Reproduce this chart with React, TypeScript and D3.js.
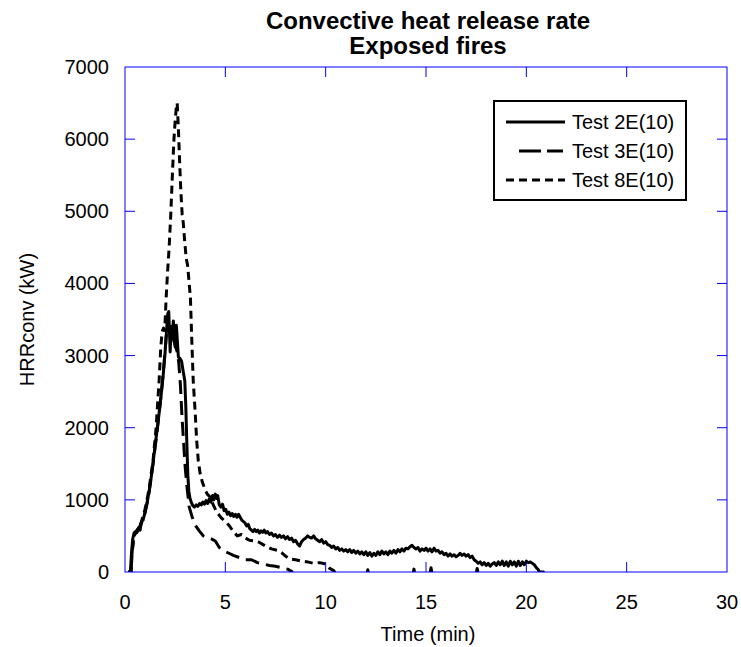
import React from "react";
import * as d3 from "d3";

const xTicks = [0, 5, 10, 15, 20, 25, 30];
const yTicks = [0, 1000, 2000, 3000, 4000, 5000, 6000, 7000];
const titleLines = ["Convective heat release rate", "Exposed fires"];
const seriesNames = ["Test 2E(10)", "Test 3E(10)", "Test 8E(10)"];

const test2E: [number, number][] = [
  [0.15,0],[0.27,0],[0.32,250],[0.38,450],[0.45,540],[0.52,560],[0.6,550],[0.68,610],[0.75,580],[0.82,700],[0.9,720],[1.0,830],[1.1,950],[1.2,1120],[1.3,1300],[1.4,1520],[1.5,1750],[1.6,1970],[1.7,2200],[1.8,2450],[1.9,2720],[2.0,3050],[2.07,3350],[2.13,3580],[2.18,3610],[2.22,3300],[2.25,3050],[2.3,3400],[2.35,3300],[2.41,3480],[2.46,3200],[2.5,3120],[2.56,3420],[2.61,3200],[2.66,2980],[2.74,2960],[2.82,2920],[2.9,2780],[2.98,2650],[3.03,2300],[3.08,1800],[3.13,1350],[3.18,1120],[3.24,1020],[3.3,970],[3.38,920],[3.46,900],[3.55,930],[3.63,910],[3.72,950],[3.8,930],[3.88,970],[3.96,940],[4.04,990],[4.12,950],[4.2,1010],[4.28,970],[4.36,1060],[4.42,1000],[4.5,1080],[4.56,1020],[4.62,1060],[4.7,930],[4.78,900],[4.86,940],[4.94,850],[5.02,870],[5.1,800],[5.18,830],[5.26,780],[5.34,810],[5.42,770],[5.5,800],[5.58,760],[5.66,800],[5.74,760],[5.82,720],[5.9,700],[5.98,680],[6.06,640],[6.14,660],[6.22,600],[6.3,580],[6.38,560],[6.46,590],[6.54,560],[6.62,580],[6.7,540],[6.78,570],[6.86,550],[6.94,580],[7.02,540],[7.1,560],[7.2,520],[7.3,540],[7.4,500],[7.5,520],[7.6,480],[7.7,510],[7.8,480],[7.9,500],[8.0,460],[8.1,490],[8.2,450],[8.3,470],[8.4,420],[8.5,440],[8.6,390],[8.7,360],[8.8,420],[8.9,450],[9.0,470],[9.1,500],[9.2,480],[9.3,470],[9.4,500],[9.5,460],[9.6,440],[9.7,420],[9.8,450],[9.9,400],[10.0,420],[10.1,380],[10.2,370],[10.3,340],[10.4,360],[10.5,320],[10.6,340],[10.7,300],[10.8,320],[10.9,290],[11.0,310],[11.1,280],[11.2,310],[11.3,270],[11.4,300],[11.5,260],[11.6,290],[11.7,250],[11.8,280],[11.9,240],[12.0,280],[12.1,230],[12.2,270],[12.3,220],[12.4,260],[12.5,230],[12.6,280],[12.7,240],[12.8,290],[12.9,250],[13.0,280],[13.1,240],[13.2,290],[13.3,260],[13.4,300],[13.5,260],[13.6,310],[13.7,280],[13.8,320],[13.9,290],[14.0,330],[14.1,320],[14.2,350],[14.3,370],[14.4,340],[14.5,320],[14.6,340],[14.7,290],[14.8,320],[14.9,300],[15.0,330],[15.1,290],[15.2,320],[15.3,280],[15.4,330],[15.5,290],[15.6,300],[15.7,260],[15.8,280],[15.9,240],[16.0,260],[16.1,220],[16.2,250],[16.3,220],[16.4,240],[16.5,210],[16.6,230],[16.7,260],[16.8,230],[16.9,250],[17.0,220],[17.1,240],[17.2,200],[17.3,220],[17.4,170],[17.5,150],[17.6,120],[17.7,140],[17.8,100],[17.9,130],[18.0,90],[18.1,120],[18.2,80],[18.3,110],[18.4,130],[18.5,90],[18.6,140],[18.7,100],[18.8,150],[18.9,90],[19.0,140],[19.1,80],[19.2,150],[19.3,100],[19.4,140],[19.5,80],[19.6,150],[19.7,90],[19.8,140],[19.9,100],[20.0,150],[20.1,130],[20.2,140],[20.3,120],[20.4,100],[20.5,60],[20.6,30],[20.65,0],[20.85,0],[20.9,-100]
];

const test3E: [number, number][] = [
  [0.15,0],[0.3,0],[0.36,300],[0.45,520],[0.6,580],[0.8,660],[1.0,820],[1.2,1100],[1.4,1500],[1.6,1950],[1.8,2450],[1.95,2900],[2.05,3250],[2.15,3450],[2.22,3300],[2.3,3200],[2.4,3350],[2.5,3150],[2.6,3050],[2.68,2900],[2.76,2600],[2.84,2150],[2.92,1800],[3.0,1450],[3.1,1150],[3.2,900],[3.35,760],[3.5,650],[3.7,570],[3.9,500],[4.1,480],[4.3,460],[4.5,430],[4.7,340],[4.9,300],[5.1,270],[5.4,230],[5.7,200],[6.0,170],[6.3,170],[6.6,130],[6.9,110],[7.2,90],[7.5,80],[7.8,60],[8.1,40],[8.3,10],[8.5,-100],[12.0,-100],[12.1,30],[12.2,-100],[15.15,-100],[15.25,60],[15.35,-100],[17.45,-100],[17.55,50],[17.65,-100],[21,-100]
];

const test8E: [number, number][] = [
  [0.15,0],[0.3,0],[0.36,280],[0.45,500],[0.6,570],[0.8,680],[1.0,870],[1.2,1150],[1.4,1550],[1.55,2000],[1.7,2650],[1.78,3100],[1.85,3330],[1.92,3380],[1.98,3350],[2.05,3800],[2.12,4150],[2.2,4500],[2.28,4950],[2.36,5500],[2.44,6000],[2.5,6250],[2.56,6450],[2.6,6500],[2.66,6150],[2.72,5700],[2.78,5300],[2.85,4950],[2.9,4850],[2.97,4600],[3.05,4350],[3.12,4250],[3.2,4000],[3.26,3800],[3.33,3200],[3.4,2650],[3.5,2200],[3.57,1830],[3.65,1550],[3.74,1370],[3.85,1250],[3.99,1140],[4.1,1080],[4.24,1040],[4.4,930],[4.57,830],[4.8,750],[5.07,680],[5.2,640],[5.4,560],[5.6,500],[5.8,520],[6.0,470],[6.2,440],[6.5,430],[6.7,410],[7.0,360],[7.3,320],[7.6,300],[7.8,270],[8.0,220],[8.2,180],[8.5,170],[8.8,150],[9.1,140],[9.4,120],[9.7,130],[10.0,110],[10.2,50],[10.4,20],[10.6,-80],[10.85,-20],[10.9,20],[11.0,-100],[14.3,-100],[14.4,40],[14.5,-100],[21,-100]
];

const allSeries = [test2E, test3E, test8E];
const dashes = ["none", "14,7", "8,5"];
const legendDashes = ["none", "22,6", "8,5"];
const legendStart = [506, 519, 506];
const legendEnd = [565, 563, 565];

export default function App() {
  const W = 741, H = 647;
  const x = d3.scaleLinear().domain([0, 30]).range([125, 727]);
  const y = d3.scaleLinear().domain([0, 7000]).range([572, 67]);
  const line = d3.line<[number, number]>().x(d => x(d[0])).y(d => y(d[1]));
  const font = "'Liberation Sans', Arial, Helvetica, sans-serif";
  const blue = "#0000ff";
  const left = x(0), right = x(30), top = y(7000), bottom = y(0);
  const tickLen = 10;
  return (
    <svg width={W} height={H} style={{ position: "absolute", left: 0, top: 0, background: "#fff" }} fontFamily={font}>
      <defs>
        <clipPath id="plotclip">
          <rect x={left} y={top} width={right - left} height={bottom - top} />
        </clipPath>
      </defs>
      {titleLines.map((t, i) => (
        <text key={t} x={428} y={29 + i * 25} textAnchor="middle" fontSize={24} fontWeight="bold" fill="#000">{t}</text>
      ))}
      <g clipPath="url(#plotclip)">
        {allSeries.map((s, i) => (
          <path key={i} d={line(s) || ""} fill="none" stroke="#000" strokeWidth={3} strokeDasharray={dashes[i]} strokeLinejoin="round" />
        ))}
      </g>
      <rect x={left} y={top} width={right - left} height={bottom - top} fill="none" stroke={blue} strokeWidth={1} />
      {xTicks.slice(1, -1).map(t => (
        <g key={"xt" + t}>
          <line x1={x(t)} x2={x(t)} y1={bottom} y2={bottom - tickLen} stroke={blue} />
          <line x1={x(t)} x2={x(t)} y1={top} y2={top + tickLen} stroke={blue} />
        </g>
      ))}
      {yTicks.slice(1, -1).map(t => (
        <g key={"yt" + t}>
          <line x1={left} x2={left + tickLen} y1={y(t)} y2={y(t)} stroke={blue} />
          <line x1={right} x2={right - tickLen} y1={y(t)} y2={y(t)} stroke={blue} />
        </g>
      ))}
      {xTicks.map(t => (
        <text key={"xl" + t} x={x(t)} y={609} textAnchor="middle" fontSize={20} fill="#000">{t}</text>
      ))}
      {yTicks.map(t => (
        <text key={"yl" + t} x={109} y={y(t) + 7} textAnchor="end" fontSize={20} fill="#000">{t}</text>
      ))}
      <text x={428} y={641} textAnchor="middle" fontSize={20} fill="#000">Time (min)</text>
      <text transform={`translate(34, ${(top + bottom) / 2}) rotate(-90)`} textAnchor="middle" fontSize={20} fill="#000">HRRconv (kW)</text>
      <rect x={494} y={101} width={192} height={99} fill="#fff" stroke="#000" strokeWidth={2} />
      {seriesNames.map((n, i) => (
        <g key={n}>
          <line x1={legendStart[i]} x2={legendEnd[i]} y1={122 + i * 29} y2={122 + i * 29} stroke="#000" strokeWidth={3} strokeDasharray={legendDashes[i]} />
          <text x={572} y={122 + i * 29 + 7} fontSize={20} fill="#000">{n}</text>
        </g>
      ))}
    </svg>
  );
}
